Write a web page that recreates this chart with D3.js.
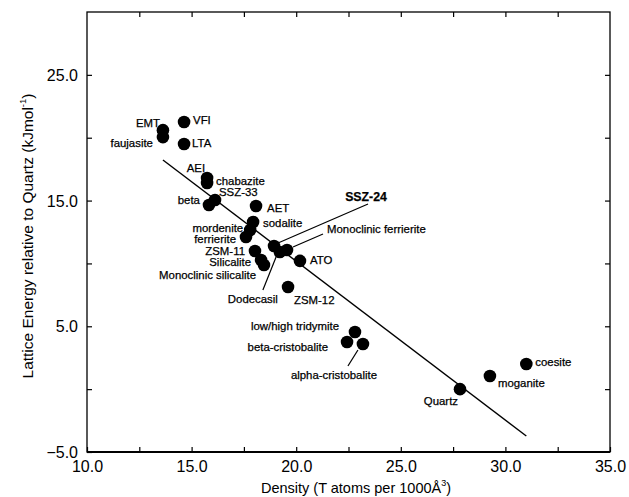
<!DOCTYPE html>
<html>
<head>
<meta charset="utf-8">
<script src="https://cdn.jsdelivr.net/npm/d3@7"></script>
<style>
  html, body { margin: 0; padding: 0; background: #fff; }
  svg { display: block; font-family: "Liberation Sans", Arial, Helvetica, sans-serif; }
</style>
</head>
<body>
<svg id="chart" width="629" height="497"></svg>
<script>
// ---- data ----
const names = ["VFI","EMT","faujasite","LTA","AEI","chabazite","SSZ-33","beta","AET","sodalite",
  "mordenite","ferrierite","ZSM-11","Silicalite","Monoclinic silicalite","SSZ-24","Monoclinic ferrierite",
  "Dodecasil","ATO","ZSM-12","low/high tridymite","beta-cristobalite","alpha-cristobalite","Quartz","moganite","coesite"];
const density = [14.64,13.63,13.63,14.64,15.74,15.74,16.12,15.83,18.08,17.94,
  17.80,17.60,18.03,18.32,18.46,18.94,19.56,
  19.22,20.18,19.61,22.81,22.43,23.19,27.83,29.26,31.00];
const energy = [21.25,20.60,20.05,19.50,16.80,16.40,15.05,14.65,14.57,13.30,
  12.66,12.10,10.99,10.27,9.88,11.39,11.07,
  10.91,10.20,8.13,4.55,3.75,3.59,0.00,1.05,2.00];
const fitDensity = [13.63, 31.0];
const fitEnergy = [18.23, -3.73];
const xTicks = [10,12.5,15,17.5,20,22.5,25,27.5,30,32.5,35];
const yTicks = [-5,0,5,10,15,20,25,30];
const xLabelled = [10,15,20,25,30,35];
const yLabelled = [-5,5,15,25];

// ---- label layout (pixel offsets from the point) ----
const labelLayout = {
  "VFI": {dx:9, dy:-2, a:"start"},
  "EMT": {dx:-3, dy:-7, a:"end"},
  "faujasite": {dx:-10, dy:6, a:"end"},
  "LTA": {dx:8, dy:-1, a:"start"},
  "AEI": {dx:-2, dy:-10, a:"end"},
  "chabazite": {dx:9, dy:-2, a:"start"},
  "SSZ-33": {dx:4, dy:-8, a:"start"},
  "beta": {dx:-9, dy:-5, a:"end"},
  "AET": {dx:11, dy:2, a:"start"},
  "sodalite": {dx:10, dy:1, a:"start"},
  "mordenite": {dx:-7, dy:-2, a:"end"},
  "ferrierite": {dx:-10, dy:2, a:"end"},
  "ZSM-11": {dx:-10, dy:0, a:"end"},
  "Silicalite": {dx:-10, dy:2, a:"end"},
  "Monoclinic silicalite": {dx:-8, dy:10, a:"end"},
  "SSZ-24": {dx:92, dy:-49, a:"middle", bold:true, lead:[4,-3,94,-42]},
  "Monoclinic ferrierite": {dx:40, dy:-21, a:"start", lead:[6,-3,36,-16]},
  "Dodecasil": {dx:-27, dy:47, a:"middle", lead:[-3,3,-17,38]},
  "ATO": {dx:10, dy:-1, a:"start"},
  "ZSM-12": {dx:6, dy:13, a:"start"},
  "low/high tridymite": {dx:-16, dy:-6, a:"end"},
  "beta-cristobalite": {dx:-19, dy:5, a:"end"},
  "alpha-cristobalite": {dx:-29, dy:31, a:"middle", lead:[-5,6,-15,22]},
  "Quartz": {dx:-2, dy:12, a:"end"},
  "moganite": {dx:8, dy:7, a:"start"},
  "coesite": {dx:9, dy:-2, a:"start"}
};

const svg = d3.select("#chart");
const L = 87, R = 610, T = 12, B = 452;
const x = d3.scaleLinear().domain([10,35]).range([L,R]);
const y = d3.scaleLinear().domain([-5,30]).range([B,T]);
const fmt = d3.format(".1f");

// axes (ticks inside)
const tk = 5;
const gBottom = svg.append("g").attr("transform",`translate(0,${B})`)
  .call(d3.axisBottom(x).tickValues(xTicks).tickSizeInner(-tk).tickSizeOuter(0).tickPadding(0)
    .tickFormat(d => xLabelled.includes(d) ? fmt(d) : ""));
gBottom.selectAll("text").attr("font-size",16).attr("fill","#000").attr("dy",null).attr("y",20)
  .attr("font-family","Liberation Sans, Arial, sans-serif");
svg.append("g").attr("transform",`translate(0,${T})`)
  .call(d3.axisTop(x).tickValues(xTicks.slice(1,-1)).tickSizeInner(-tk).tickSizeOuter(0).tickFormat(""));
const gLeft = svg.append("g").attr("transform",`translate(${L},0)`)
  .call(d3.axisLeft(y).tickValues(yTicks.slice(0,-1)).tickSizeInner(-tk).tickSizeOuter(0).tickPadding(0)
    .tickFormat(d => yLabelled.includes(d) ? fmt(d) : ""));
gLeft.selectAll("text").attr("font-size",16).attr("fill","#000").attr("x",-9).attr("dy","0.35em")
  .attr("font-family","Liberation Sans, Arial, sans-serif");
svg.append("g").attr("transform",`translate(${R},0)`)
  .call(d3.axisRight(y).tickValues(yTicks.slice(1,-1)).tickSizeInner(-tk).tickSizeOuter(0).tickFormat(""));
svg.selectAll(".domain").remove();
svg.selectAll(".tick line").attr("stroke","#000").attr("stroke-width",1.2);

// frame
svg.append("rect").attr("x",L).attr("y",T).attr("width",R-L).attr("height",B-T)
  .attr("fill","none").attr("stroke","#000").attr("stroke-width",1.3);
svg.append("line").attr("x1",L).attr("x2",R).attr("y1",B).attr("y2",B)
  .attr("stroke","#000").attr("stroke-width",2.2);

// fit line
svg.append("line")
  .attr("x1",x(fitDensity[0])).attr("y1",y(fitEnergy[0]))
  .attr("x2",x(fitDensity[1])).attr("y2",y(fitEnergy[1]))
  .attr("stroke","#000").attr("stroke-width",1.4);

const pts = names.map((n,i)=>({n, d:density[i], e:energy[i]}));

// leader lines
svg.append("g").selectAll("line").data(pts.filter(p=>labelLayout[p.n].lead)).join("line")
  .attr("x1",p=>x(p.d)+labelLayout[p.n].lead[0]).attr("y1",p=>y(p.e)+labelLayout[p.n].lead[1])
  .attr("x2",p=>x(p.d)+labelLayout[p.n].lead[2]).attr("y2",p=>y(p.e)+labelLayout[p.n].lead[3])
  .attr("stroke","#000").attr("stroke-width",1.2);

// points
svg.append("g").selectAll("circle").data(pts).join("circle")
  .attr("cx",p=>x(p.d)).attr("cy",p=>y(p.e)).attr("r",6.3).attr("fill","#000");

// labels
svg.append("g").selectAll("text").data(pts).join("text")
  .attr("x",p=>x(p.d)+labelLayout[p.n].dx).attr("y",p=>y(p.e)+labelLayout[p.n].dy)
  .attr("dy","0.35em").attr("text-anchor",p=>labelLayout[p.n].a)
  .attr("font-size",p=>labelLayout[p.n].bold?12.3:11.4)
  .attr("font-weight",p=>labelLayout[p.n].bold?"bold":"normal")
  .attr("fill","#000").attr("stroke","#000").attr("stroke-width",0.25)
  .text(p=>p.n);

// axis titles
const xt = svg.append("text").attr("x",356).attr("y",493).attr("text-anchor","middle")
  .attr("font-size",14.5).attr("fill","#000");
xt.append("tspan").text("Density (T atoms per 1000Å");
xt.append("tspan").attr("font-size",9).attr("dy",-7).text("3");
xt.append("tspan").attr("dy",7).text(")");

const yt = svg.append("text").attr("transform","translate(33,236) rotate(-90)").attr("text-anchor","middle")
  .attr("font-size",15.5).attr("fill","#000");
yt.append("tspan").text("Lattice Energy relative to Quartz (kJmol");
yt.append("tspan").attr("font-size",9.5).attr("dy",-7).text("-1");
yt.append("tspan").attr("dy",7).text(")");
</script>
</body>
</html>
